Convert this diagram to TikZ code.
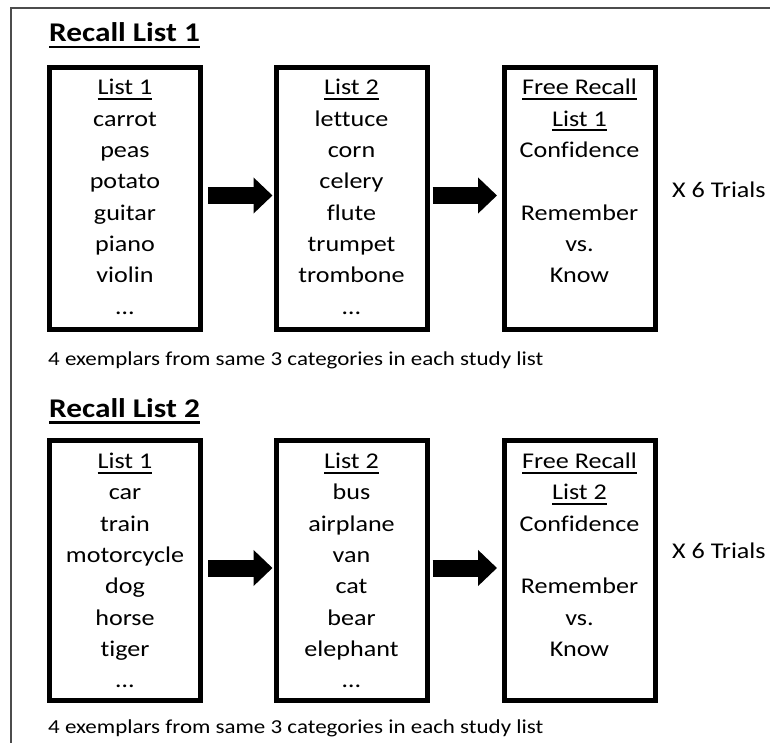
\documentclass[tikz,border=0pt]{standalone}
\usepackage{fontspec}
\setmainfont{Carlito}[Ligatures=NoCommon]
\usetikzlibrary{arrows.meta}
\newcommand\hs[1]{\scalebox{1.16}[1]{#1}}
\newcommand\myul[1]{\setbox0\hbox{#1}\rlap{\rule[-5pt]{\wd0}{1.8pt}}\box0}
\newcommand\myulb[1]{\setbox0\hbox{#1}\rlap{\rule[-6.5pt]{\wd0}{2.7pt}}\box0}
\begin{document}
\begin{tikzpicture}[x=1pt,y=-1pt,
  box/.style={draw, line width=5pt, inner sep=0pt, minimum width=151pt},
  item/.style={anchor=base, inner sep=0pt, font=\fontsize{22.5}{26}\selectfont},
  side/.style={anchor=base west, inner sep=0pt, font=\fontsize{22.5}{26}\selectfont},
  ttl/.style={anchor=base west, inner sep=0pt, font=\fontsize{27}{32}\selectfont\bfseries},
  captext/.style={anchor=base west, inner sep=0pt, font=\fontsize{19.8}{24}\selectfont},
  bigarrow/.style={line width=17pt, -{Triangle[length=19pt,width=35pt]}},
  frameline/.style={draw=black!70, line width=1.2pt}]
\useasboundingbox (0,0) rectangle (770,743);
\draw[frameline] (11,743) -- (11,8) -- (770,8);

% ---------- Recall List 1 ----------
\node[ttl] (title1) at (49,42) {\hs{\myulb{Recall List 1}}};
\node[box, minimum height=262pt] (a1) at (125,198.5) {};
\node[box, minimum height=262pt] (a2) at (351.5,198.5) {};
\node[box, minimum height=262pt] (a3) at (579.5,198.5) {};
\foreach \w [count=\i from 0] in {{\myul{List 1}},carrot,peas,potato,guitar,piano,violin,…}
  \node[item] (a1-\i) at (125,95+31.3*\i) {\hs{\w}};
\foreach \w [count=\i from 0] in {{\myul{List 2}},lettuce,corn,celery,flute,trumpet,trombone,…}
  \node[item] (a2-\i) at (351.5,95+31.3*\i) {\hs{\w}};
\node[item] (a3-0) at (579.5,95) {\hs{\myul{Free Recall}}};
\node[item] (a3-1) at (579.5,126.3) {\hs{\myul{List 1}}};
\node[item] (a3-2) at (579.5,157.6) {\hs{Confidence}};
\node[item] (a3-4) at (579.5,220.2) {\hs{Remember}};
\node[item] (a3-5) at (579.5,251.5) {\hs{vs.}};
\node[item] (a3-6) at (579.5,282.8) {\hs{Know}};
\node[side] (trials1) at (672,198) {\hs{X 6 Trials}};
\draw[bigarrow, shorten <=5pt, shorten >=1pt] ([yshift=3pt]a1.east) -- ([yshift=3pt]a2.west);
\draw[bigarrow, shorten <=3pt, shorten >=4.5pt] ([yshift=3pt]a2.east) -- ([yshift=3pt]a3.west);
\node[captext] (cap1) at (48,365) {\hs{4 exemplars from same 3 categories in each study list}};

% ---------- Recall List 2 ----------
\node[ttl] (title2) at (49,417) {\hs{\myulb{Recall List 2}}};
\node[box, minimum height=260pt] (b1) at (125,570.5) {};
\node[box, minimum height=260pt] (b2) at (351.5,570.5) {};
\node[box, minimum height=260pt] (b3) at (579.5,570.5) {};
\foreach \w [count=\i from 0] in {{\myul{List 1}},car,train,motorcycle,dog,horse,tiger,…}
  \node[item] (b1-\i) at (125,468.5+31.3*\i) {\hs{\w}};
\foreach \w [count=\i from 0] in {{\myul{List 2}},bus,airplane,van,cat,bear,elephant,…}
  \node[item] (b2-\i) at (351.5,468.5+31.3*\i) {\hs{\w}};
\node[item] (b3-0) at (579.5,468.5) {\hs{\myul{Free Recall}}};
\node[item] (b3-1) at (579.5,499.8) {\hs{\myul{List 2}}};
\node[item] (b3-2) at (579.5,531.1) {\hs{Confidence}};
\node[item] (b3-4) at (579.5,593.7) {\hs{Remember}};
\node[item] (b3-5) at (579.5,625) {\hs{vs.}};
\node[item] (b3-6) at (579.5,656.3) {\hs{Know}};
\node[side] (trials2) at (672,558) {\hs{X 6 Trials}};
\draw[bigarrow, shorten <=5pt, shorten >=1pt] ([yshift=2.5pt]b1.east) -- ([yshift=2.5pt]b2.west);
\draw[bigarrow, shorten <=3pt, shorten >=4.5pt] ([yshift=2.5pt]b2.east) -- ([yshift=2.5pt]b3.west);
\node[captext] (cap2) at (48,733) {\hs{4 exemplars from same 3 categories in each study list}};
\end{tikzpicture}
\end{document}
